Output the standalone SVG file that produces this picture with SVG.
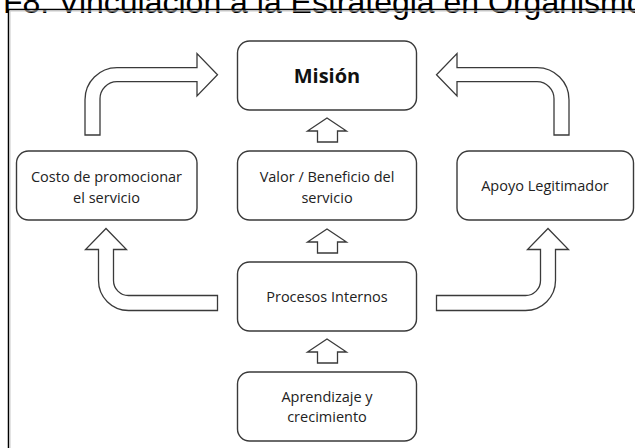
<svg xmlns="http://www.w3.org/2000/svg" width="635" height="448" viewBox="0 0 635 448">
<style>
.box{fill:#fff;stroke:#3a3a3a;stroke-width:1.4}
.arr{fill:#fff;stroke:#3a3a3a;stroke-width:1.3;stroke-linejoin:miter}
.t{font-family:"Open Sans","Liberation Sans",sans-serif;font-size:14.5px;fill:#222;text-anchor:middle}
.tb{font-family:"Open Sans","Liberation Sans",sans-serif;font-size:20px;font-weight:bold;fill:#111;text-anchor:middle}
.title{font-family:"Liberation Sans",Arial,sans-serif;font-size:32px;fill:#000}
</style>
<rect width="635" height="448" fill="#fff"/>
<text class="title" x="3" y="13">F8. Vinculación a la Estrategia en Organismos</text>
<path d="M8.5,460 V9.5 H640" fill="none" stroke="#000" stroke-width="1.5"/>
<path d="M10,460 V11 H640" fill="none" stroke="#c8c8c8" stroke-width="1"/>

<g id="connectors">
  <path class="arr" d="M85,135 V99.7 A32,32 0 0 1 117,67.7 H197 V53.5 L217.5,74.7 L197,96 V81.7 H117 A17,17 0 0 0 100,98.7 V135 Z"/>
  <path class="arr" d="M569,135 V99.7 A32,32 0 0 0 537,67.7 H457 V53.5 L436.5,74.7 L457,96 V81.7 H537 A17,17 0 0 1 554,98.7 V135 Z"/>
  <path class="arr" d="M217.5,295.5 H128.5 A15,15 0 0 1 113.5,280.5 V249.5 H126.5 L106,228.5 L85.5,249.5 H98.5 V280.5 A30,30 0 0 0 128.5,310.5 H217.5 Z"/>
  <path class="arr" d="M436.5,295.5 H525.5 A15,15 0 0 0 540.5,280.5 V249.5 H527.5 L548,228.5 L568.5,249.5 H555.5 V280.5 A30,30 0 0 1 525.5,310.5 H436.5 Z"/>
  <path class="arr" d="M327,118 L346.5,131 H337.5 V142 H317.5 V131 H307.5 Z"/>
  <path class="arr" d="M327,229 L346.5,242 H337.5 V253 H317.5 V242 H307.5 Z"/>
  <path class="arr" d="M327,339 L346.5,352 H337.5 V363 H317.5 V352 H307.5 Z"/>
</g>

<g id="mision">
  <rect class="box" x="237.5" y="41" width="179" height="69" rx="12"/>
  <text class="tb" x="327" y="83">Misión</text>
</g>
<g id="costo">
  <rect class="box" x="16.5" y="151" width="180.5" height="69" rx="12"/>
  <text class="t" x="106.5" y="182">Costo de promocionar</text>
  <text class="t" x="106.5" y="203">el servicio</text>
</g>
<g id="valor">
  <rect class="box" x="237.5" y="151" width="179" height="69" rx="12"/>
  <text class="t" x="327" y="182">Valor / Beneficio del</text>
  <text class="t" x="327" y="203">servicio</text>
</g>
<g id="apoyo">
  <rect class="box" x="457" y="151" width="176.5" height="69" rx="12"/>
  <text class="t" x="545" y="191">Apoyo Legitimador</text>
</g>
<g id="procesos">
  <rect class="box" x="237.5" y="262" width="179" height="69" rx="12"/>
  <text class="t" x="327" y="302">Procesos Internos</text>
</g>
<g id="aprendizaje">
  <rect class="box" x="237.5" y="372" width="179" height="69" rx="12"/>
  <text class="t" x="327" y="402">Aprendizaje y</text>
  <text class="t" x="327" y="422">crecimiento</text>
</g>
</svg>
